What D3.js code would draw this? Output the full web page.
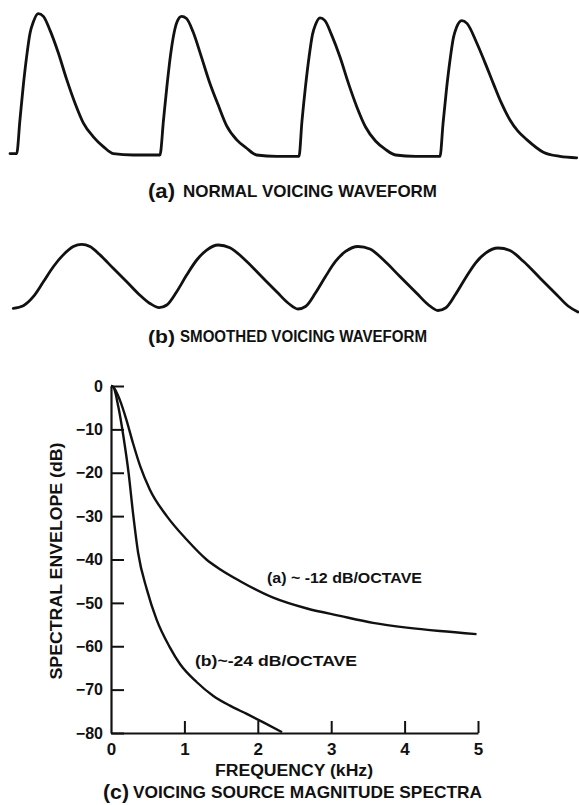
<!DOCTYPE html>
<html><head><meta charset="utf-8">
<script src="https://cdn.jsdelivr.net/npm/d3@7"></script>
<style>
html,body{margin:0;padding:0;background:#fff;}
svg{display:block;}
text{font-family:"Liberation Sans",Arial,sans-serif;font-weight:bold;fill:#111;}
</style></head>
<body>
<svg id="c" width="579" height="805"></svg>
<script>
// ---- (a) normal voicing waveform (time in 0.1 ms units, relative amplitude)
const waveATime = [0,4.7,7.0,9.4,11.8,14.1,16.4,19.9,23.5,28.2,34.0,39.9,45.8,51.6,58.7,65.7,72.7,86.8,105.6,
  108.1,110.6,113.0,115.5,117.6,120.8,124.3,128.9,134.5,140.5,146.5,152.5,159.5,166.5,173.6,187.7,203.5,
  205.6,208.1,210.6,213.0,215.1,218.3,221.8,226.4,232.4,238.4,244.4,250.4,257.4,264.4,271.5,285.6,302.8,
  305.0,307.4,309.9,312.3,314.4,318.1,321.8,328.7,334.5,340.4,346.1,352.1,357.7,363.9,375.6,387.3,399.1];
const waveAAmp = [0.01,0.01,0.25,0.50,0.71,0.87,0.95,1.01,0.99,0.89,0.73,0.54,0.37,0.23,0.13,0.06,0.01,0.0,0.0,
  0.25,0.50,0.71,0.87,0.95,0.99,0.975,0.88,0.71,0.52,0.36,0.21,0.11,0.05,0.0,-0.01,-0.01,
  0.24,0.49,0.70,0.86,0.93,0.98,0.96,0.86,0.70,0.51,0.34,0.20,0.10,0.04,0.0,-0.01,-0.01,
  0.23,0.47,0.68,0.84,0.91,0.96,0.94,0.80,0.66,0.51,0.37,0.25,0.17,0.11,0.02,-0.01,-0.02];

// ---- (b) smoothed voicing waveform
const waveBTime = [2.3,9.4,16.4,23.5,30.5,37.5,44.6,50.5,56.3,63.4,72.7,82.2,91.5,98.6,105.1,
  110.4,117.4,124.4,131.5,138.5,146.7,154.9,164.3,176.1,187.8,195.8,202.8,
  208.1,215.1,222.2,229.2,236.3,245.1,253.5,262.9,274.6,286.4,294.4,301.4,
  306.7,313.7,320.8,327.8,334.9,343.7,352.1,361.5,373.2,385.0,393.0,400.0];
const waveBAmp = [-0.005,0.036,0.177,0.41,0.645,0.83,0.96,0.995,0.96,0.83,0.62,0.41,0.20,0.07,0.005,
  0.047,0.255,0.515,0.75,0.906,0.984,0.942,0.777,0.515,0.255,0.078,-0.016,
  0.023,0.234,0.492,0.727,0.883,0.961,0.922,0.753,0.492,0.231,0.055,-0.039,
  0.0,0.211,0.469,0.703,0.859,0.9375,0.898,0.73,0.469,0.208,0.031,-0.0625];

// ---- (c) voicing source magnitude spectra
const freqA = [0,0.03,0.12,0.21,0.30,0.40,0.53,0.76,1.03,1.30,1.49,1.76,2.21,2.67,3.12,3.57,4.03,4.48,4.98];
const dbA   = [0,-0.2,-3.2,-7.8,-13.2,-18.6,-23.9,-30.0,-35.4,-40.0,-42.3,-45.0,-48.8,-51.3,-53.0,-54.6,-55.7,-56.5,-57.2];
const freqB = [0,0.03,0.10,0.17,0.24,0.30,0.37,0.49,0.62,0.80,0.94,1.17,1.39,1.62,1.85,2.07,2.33];
const dbB   = [0,-0.2,-4.8,-11.7,-20.1,-29.3,-38.5,-47.0,-53.8,-60.2,-64.1,-68.3,-71.4,-73.7,-75.6,-77.5,-79.8];

const xTicks = [0,1,2,3,4,5];
const yTicks = [0,-10,-20,-30,-40,-50,-60,-70,-80];

const svg = d3.select("#c");
const ink = "#111";

// waveform scales
const tScale = d3.scaleLinear().domain([0,400]).range([10,578]);
const yTop = d3.scaleLinear().domain([0,1]).range([155,15]);
const yBot = d3.scaleLinear().domain([0,1]).range([308,244]);

const lineTop = d3.line().x((d,i)=>tScale(waveATime[i])).y((d,i)=>yTop(waveAAmp[i])).curve(d3.curveMonotoneX);
svg.append("path").attr("d", lineTop(waveATime)).attr("fill","none").attr("stroke",ink)
  .attr("stroke-width",2.8).attr("stroke-linejoin","round").attr("stroke-linecap","round");

const lineBot = d3.line().x((d,i)=>tScale(waveBTime[i])).y((d,i)=>yBot(waveBAmp[i])).curve(d3.curveMonotoneX);
svg.append("path").attr("d", lineBot(waveBTime)).attr("fill","none").attr("stroke",ink)
  .attr("stroke-width",2.8).attr("stroke-linejoin","round").attr("stroke-linecap","round");

// captions
function caption(prefix, px, rest, rx, y, len, size){
  svg.append("text").attr("x",px).attr("y",y+1).attr("font-size",size+3)
    .attr("textLength",px===103?26:27).attr("lengthAdjust","spacingAndGlyphs").text(prefix);
  svg.append("text").attr("x",rx).attr("y",y).attr("font-size",size)
    .attr("textLength",len).attr("lengthAdjust","spacingAndGlyphs").text(rest);
}
caption("(a)",148,"NORMAL VOICING WAVEFORM",183,197,254,17);
caption("(b)",148,"SMOOTHED VOICING WAVEFORM",180,342,247,16);
caption("(c)",103,"VOICING SOURCE MAGNITUDE SPECTRA",133,798,349,17);

// spectrum chart
const x = d3.scaleLinear().domain([0,5]).range([111,478]);
const y = d3.scaleLinear().domain([-80,0]).range([733,386]);

const gy = svg.append("g").attr("transform","translate(111,0)")
  .call(d3.axisLeft(y).tickValues(yTicks).tickSizeInner(-13).tickSizeOuter(0).tickPadding(8)
     .tickFormat(d3.format("d")));
const gx = svg.append("g").attr("transform","translate(0,733)")
  .call(d3.axisBottom(x).tickValues(xTicks).tickSizeInner(-12).tickSizeOuter(0).tickPadding(10)
     .tickFormat(d3.format("d")));
[gy,gx].forEach(g=>{
  g.attr("font-family",null).attr("font-size",null);
  g.select(".domain").attr("stroke",ink).attr("stroke-width",2.2);
  g.selectAll(".tick line").attr("stroke",ink).attr("stroke-width",2);
  g.selectAll(".tick text").attr("fill",ink).attr("font-weight","bold");
});
gy.selectAll(".tick text").attr("font-size",16);
gx.selectAll(".tick text").attr("font-size",17);
gx.selectAll(".tick").filter(d=>d===0).select("line").remove();

const specLine = (fx, dy) => d3.line().x((d,i)=>x(fx[i])).y((d,i)=>y(dy[i])).curve(d3.curveMonotoneX);
svg.append("path").attr("d", specLine(freqA,dbA)(freqA)).attr("fill","none").attr("stroke",ink).attr("stroke-width",2.4);
svg.append("path").attr("d", specLine(freqB,dbB)(freqB)).attr("fill","none").attr("stroke",ink).attr("stroke-width",2.4);

// axis titles
svg.append("text").attr("transform","translate(62,561) rotate(-90)").attr("text-anchor","middle")
  .attr("font-size",17).attr("textLength",237).attr("lengthAdjust","spacingAndGlyphs").text("SPECTRAL ENVELOPE (dB)");
svg.append("text").attr("x",294).attr("y",776).attr("text-anchor","middle").attr("font-size",16)
  .attr("textLength",158).attr("lengthAdjust","spacingAndGlyphs").text("FREQUENCY (kHz)");

// curve annotations
svg.append("text").attr("x",267).attr("y",583).attr("font-size",14)
  .attr("textLength",155).attr("lengthAdjust","spacingAndGlyphs").text("(a) ~ -12 dB/OCTAVE");
svg.append("text").attr("x",195).attr("y",666).attr("font-size",14)
  .attr("textLength",162).attr("lengthAdjust","spacingAndGlyphs").text("(b)~-24 dB/OCTAVE");
</script>
</body></html>
